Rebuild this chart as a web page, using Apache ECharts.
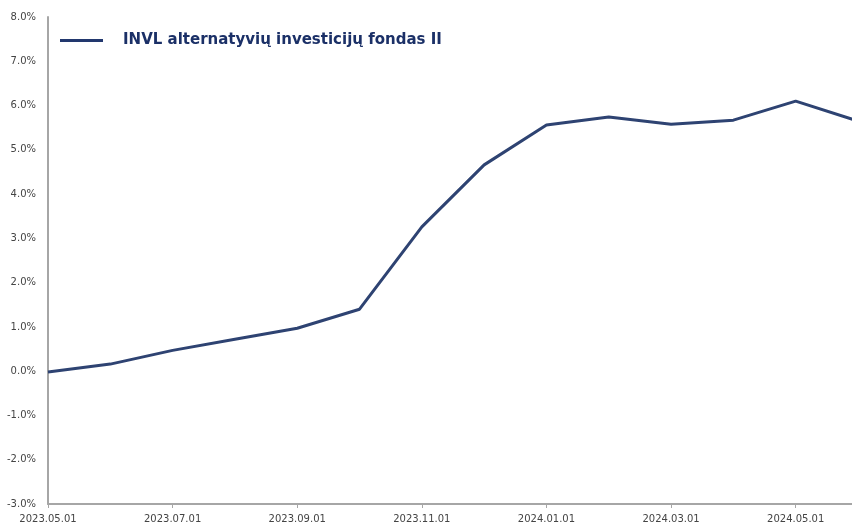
<!DOCTYPE html>
<html>
<head>
<meta charset="utf-8">
<script src="https://cdn.jsdelivr.net/npm/echarts@6/dist/echarts.min.js"></script>
<style>
  html, body { margin: 0; padding: 0; background: #fff; }
  #chart-container { width: 852px; height: 527px; }
</style>
</head>
<body>
<div id="chart-container"></div>
<script>
// monthly points, 2023.05 - 2024.06
var months = ["2023.05.01", "2023.06.01", "2023.07.01", "2023.08.01", "2023.09.01", "2023.10.01",
  "2023.11.01", "2023.12.01", "2024.01.01", "2024.02.01", "2024.03.01", "2024.04.01",
  "2024.05.01", "2024.06.01"];
var fundName = "INVL alternatyvių investicijų fondas II";
var fundValues = [-0.02, 0.16, 0.47, 0.72, 0.97, 1.40, 3.26, 4.66, 5.56, 5.74, 5.58, 5.67, 6.10, 5.65];

var dom = document.getElementById("chart-container");
var myChart = echarts.init(dom, null, { renderer: "canvas" });

var option = {
  backgroundColor: "#fff",
  animation: false,
  // last month falls just past the right edge, as in the original crop
  grid: { left: 48, width: 810, top: 17, bottom: 23, outerBoundsMode: "none", containLabel: false },
  legend: {
    left: 55,
    top: 28,
    icon: "rect",
    itemWidth: 43,
    itemHeight: 3,
    data: [fundName],
    textStyle: {
      fontFamily: "DejaVu Sans",
      fontWeight: "bold",
      fontSize: 15,
      color: "#1b3067",
      padding: [0, 0, 0, 15]
    }
  },
  xAxis: {
    type: "category",
    data: months,
    boundaryGap: false,
    axisLine: { onZero: false, lineStyle: { color: "#a6a6a6", width: 2 } },
    axisTick: { interval: 1, length: 4, lineStyle: { color: "#a6a6a6" } },
    axisLabel: {
      interval: 1,
      fontFamily: "DejaVu Sans",
      fontSize: 10,
      color: "#444",
      margin: 10
    },
    splitLine: { show: false }
  },
  yAxis: {
    type: "value",
    min: -3,
    max: 8,
    interval: 1,
    axisLine: { show: true, lineStyle: { color: "#a6a6a6", width: 2 } },
    axisTick: { show: false },
    splitLine: { show: false },
    axisLabel: {
      fontFamily: "DejaVu Sans",
      fontSize: 10,
      color: "#444",
      margin: 12,
      formatter: function (v) { return v.toFixed(1) + "%"; }
    }
  },
  series: [
    {
      name: fundName,
      type: "line",
      data: fundValues,
      symbol: "none",
      color: "#22386e",
      lineStyle: { width: 3, color: "#2e4372" }
    }
  ]
};

myChart.setOption(option);
window.addEventListener("resize", myChart.resize);
</script>
</body>
</html>
